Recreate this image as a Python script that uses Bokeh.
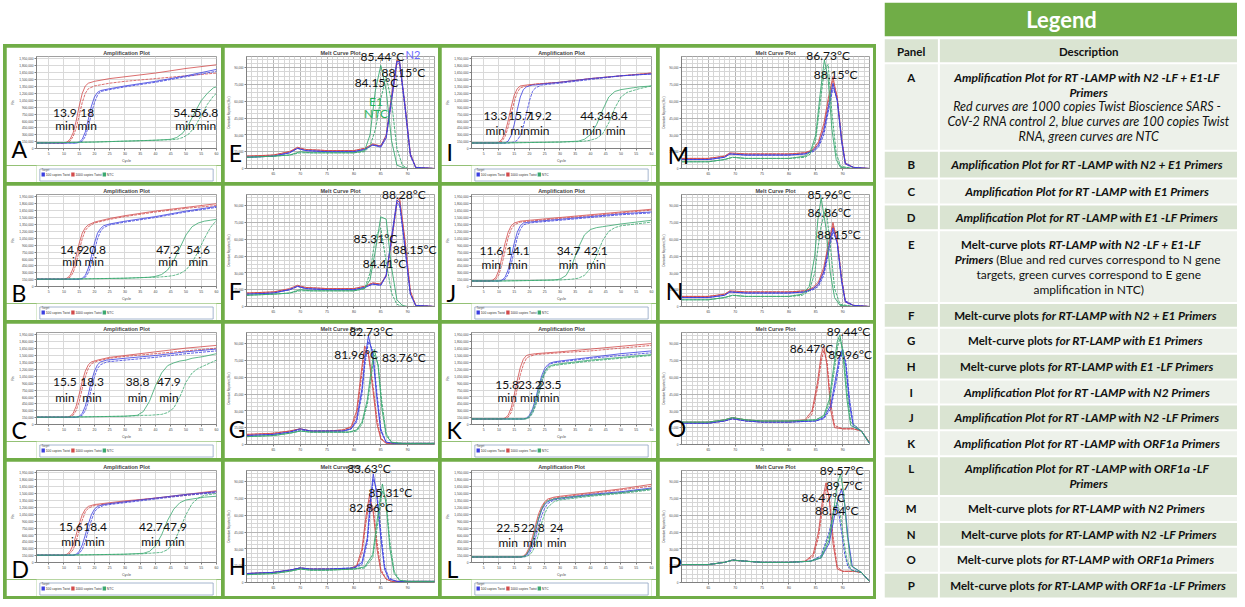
from bokeh.plotting import figure
from bokeh.layouts import row, column
from bokeh.models import Range1d, Spacer, FixedTicker, CustomJSTickFormatter
from bokeh.embed import file_html
from bokeh.resources import INLINE
from bokeh.core.properties import value

# ====================== DATA ======================
LEGEND_LABELS = ["100 copies Twist", "1000 copies Twist", "NTC"]

# ---- Amplification plots (x = cycle, y = Rn in thousands) ----
A_red_x = [1, 10, 11, 12, 13, 14, 15, 16, 17, 18, 20, 25, 30, 40, 50, 60]
A_red_y1 = [120, 120, 140, 200, 340, 600, 920, 1200, 1360, 1420, 1460, 1520, 1560, 1640, 1740, 1820]
A_red_y2 = [120, 120, 130, 160, 260, 440, 720, 1000, 1200, 1300, 1360, 1420, 1460, 1520, 1580, 1640]
A_blue_x = [1, 14, 15, 16, 17, 18, 19, 20, 21, 22, 25, 30, 40, 50, 60]
A_blue_y1 = [120, 120, 140, 200, 360, 640, 920, 1120, 1220, 1260, 1300, 1360, 1460, 1580, 1720]
A_blue_y2 = [120, 120, 130, 160, 260, 480, 760, 1000, 1160, 1240, 1280, 1340, 1440, 1560, 1680]
A_green_x = [1, 10, 20, 30, 40, 45, 47, 49, 51, 53, 55, 57, 59, 60]
A_green_y1 = [120, 130, 140, 160, 180, 200, 240, 340, 540, 800, 1040, 1200, 1320, 1340]
A_green_y2 = [120, 130, 140, 160, 180, 190, 200, 240, 320, 480, 720, 960, 1140, 1200]
A_times = ["13.9", "18", "54.5", "56.8"]

B_red_x = [1, 10, 11, 12, 13, 14, 15, 16, 17, 18, 20, 25, 30, 40, 50, 60]
B_red_y1 = [160, 160, 180, 240, 400, 660, 940, 1160, 1280, 1340, 1400, 1480, 1540, 1640, 1720, 1800]
B_red_y2 = [160, 160, 170, 200, 300, 500, 780, 1040, 1220, 1300, 1380, 1460, 1520, 1620, 1700, 1760]
B_blue_x = [1, 15, 16, 17, 18, 19, 20, 21, 22, 23, 25, 30, 40, 50, 60]
B_blue_y1 = [160, 160, 180, 240, 400, 660, 940, 1160, 1260, 1320, 1360, 1420, 1520, 1640, 1740]
B_blue_y2 = [160, 160, 170, 200, 300, 500, 780, 1040, 1200, 1280, 1340, 1400, 1500, 1620, 1720]
B_green_x = [1, 10, 20, 30, 38, 40, 42, 44, 46, 48, 50, 52, 54, 56, 58, 60]
B_green_y1 = [160, 160, 170, 180, 200, 220, 260, 360, 560, 840, 1120, 1300, 1380, 1420, 1440, 1460]
B_green_y2 = [160, 160, 170, 180, 200, 200, 210, 220, 240, 280, 360, 520, 760, 1040, 1280, 1440]
B_times = ["14.9", "20.8", "47.2", "54.6"]

C_red_x = [1, 11, 12, 13, 14, 15, 16, 17, 18, 19, 21, 25, 30, 40, 50, 60]
C_red_y1 = [160, 160, 180, 240, 400, 660, 940, 1160, 1300, 1360, 1400, 1460, 1500, 1580, 1660, 1720]
C_red_y2 = [160, 160, 170, 200, 300, 500, 780, 1040, 1220, 1320, 1380, 1440, 1480, 1540, 1600, 1660]
C_blue_x = [1, 14, 15, 16, 17, 18, 19, 20, 21, 22, 24, 30, 40, 50, 60]
C_blue_y1 = [160, 160, 180, 240, 400, 660, 940, 1160, 1300, 1360, 1400, 1440, 1500, 1580, 1640]
C_blue_y2 = [160, 160, 170, 200, 300, 500, 780, 1040, 1220, 1300, 1360, 1400, 1460, 1540, 1600]
C_green_x = [1, 10, 20, 30, 34, 36, 38, 40, 42, 44, 46, 48, 50, 52, 54, 56, 60]
C_green_y1 = [160, 160, 170, 180, 200, 280, 500, 840, 1120, 1280, 1340, 1380, 1400, 1440, 1460, 1480, 1540]
C_green_y2 = [160, 160, 170, 180, 190, 200, 200, 210, 220, 260, 360, 600, 920, 1120, 1220, 1280, 1400]
C_times = ["15.5", "18.3", "38.8", "47.9"]

D_red_x = [1, 10, 11, 12, 13, 14, 15, 16, 17, 18, 20, 25, 30, 40, 50, 60]
D_red_y1 = [160, 160, 180, 240, 380, 600, 840, 1040, 1160, 1220, 1260, 1300, 1340, 1400, 1480, 1560]
D_red_y2 = [160, 160, 170, 200, 280, 460, 700, 920, 1100, 1180, 1240, 1280, 1320, 1400, 1460, 1540]
D_blue_x = [1, 13, 14, 15, 16, 17, 18, 19, 20, 21, 23, 25, 30, 40, 50, 60]
D_blue_y1 = [160, 160, 180, 240, 380, 600, 840, 1040, 1160, 1220, 1260, 1280, 1320, 1400, 1480, 1540]
D_blue_y2 = [160, 160, 170, 200, 280, 460, 700, 920, 1100, 1180, 1240, 1260, 1300, 1380, 1460, 1520]
D_green_x = [1, 10, 20, 30, 36, 38, 40, 42, 44, 46, 48, 50, 52, 54, 56, 60]
D_green_y1 = [160, 160, 170, 180, 200, 240, 360, 600, 920, 1160, 1300, 1360, 1380, 1400, 1420, 1440]
D_green_y2 = [160, 160, 170, 180, 190, 200, 210, 220, 280, 440, 720, 1040, 1280, 1400, 1460, 1500]
D_times = ["15.6", "18.4", "42.7", "47.9"]

I_red_x = [1, 9, 10, 11, 12, 13, 14, 15, 16, 17, 19, 22, 30, 40, 50, 60]
I_red_y1 = [120, 120, 140, 200, 340, 600, 900, 1160, 1300, 1360, 1380, 1400, 1440, 1520, 1580, 1640]
I_red_y2 = [120, 120, 130, 160, 260, 460, 740, 1020, 1220, 1320, 1360, 1400, 1440, 1520, 1580, 1640]
I_blue_x = [1, 12, 13, 14, 15, 16, 17, 18, 19, 20, 21, 22, 24, 30, 40, 50, 60]
I_blue_y1 = [120, 120, 160, 280, 520, 840, 1120, 1280, 1340, 1360, 1380, 1380, 1400, 1440, 1520, 1580, 1620]
I_blue_y2 = [120, 120, 120, 130, 140, 180, 280, 480, 760, 1040, 1240, 1320, 1380, 1420, 1500, 1580, 1620]
I_green_x = [1, 10, 20, 30, 36, 38, 40, 42, 44, 46, 48, 50, 52, 54, 56, 60]
I_green_y1 = [120, 120, 130, 140, 160, 200, 300, 520, 840, 1120, 1240, 1280, 1300, 1320, 1340, 1360]
I_green_y2 = [120, 120, 130, 140, 150, 160, 180, 220, 320, 560, 880, 1120, 1220, 1260, 1300, 1360]
I_times = ["13.3", "15.7", "19.2", "44.3", "48.4"]

J_red_x = [1, 7, 8, 9, 10, 11, 12, 13, 14, 15, 17, 20, 30, 40, 50, 60]
J_red_y1 = [120, 120, 140, 200, 360, 640, 940, 1180, 1320, 1380, 1420, 1440, 1500, 1560, 1620, 1680]
J_red_y2 = [120, 120, 130, 160, 260, 480, 780, 1060, 1240, 1340, 1400, 1420, 1480, 1540, 1600, 1660]
J_blue_x = [1, 10, 11, 12, 13, 14, 15, 16, 17, 18, 20, 23, 30, 40, 50, 60]
J_blue_y1 = [120, 120, 140, 200, 360, 640, 940, 1180, 1320, 1380, 1400, 1420, 1460, 1520, 1580, 1620]
J_blue_y2 = [120, 120, 130, 160, 260, 480, 780, 1060, 1240, 1340, 1380, 1400, 1440, 1500, 1560, 1600]
J_green_x = [1, 10, 20, 28, 30, 32, 34, 36, 38, 40, 42, 44, 46, 48, 50, 55, 60]
J_green_y1 = [120, 120, 130, 140, 160, 240, 480, 840, 1120, 1240, 1280, 1300, 1320, 1340, 1360, 1400, 1440]
J_green_y2 = [120, 120, 130, 140, 140, 150, 160, 180, 240, 400, 680, 1000, 1200, 1280, 1320, 1360, 1400]
J_times = ["11.6", "14.1", "34.7", "42.1"]

K_red_x = [1, 11, 12, 13, 14, 15, 16, 17, 18, 19, 20, 22, 30, 40, 50, 60]
K_red_y1 = [120, 120, 140, 200, 360, 640, 960, 1240, 1420, 1500, 1520, 1540, 1580, 1640, 1700, 1760]
K_red_y2 = [120, 120, 130, 160, 260, 480, 780, 1080, 1300, 1440, 1480, 1520, 1560, 1600, 1660, 1720]
K_blue_x = [1, 18, 19, 20, 21, 22, 23, 24, 25, 26, 27, 28, 30, 40, 50, 60]
K_blue_y1 = [120, 120, 140, 200, 340, 560, 820, 1060, 1220, 1300, 1340, 1360, 1380, 1460, 1540, 1600]
K_blue_y2 = [120, 120, 130, 160, 260, 440, 680, 940, 1140, 1260, 1320, 1340, 1360, 1440, 1500, 1560]
K_green_x = [1, 18, 19, 20, 21, 22, 23, 24, 25, 26, 27, 28, 30, 40, 50, 60]
K_green_y1 = [120, 120, 130, 180, 300, 500, 760, 1000, 1160, 1240, 1280, 1300, 1320, 1400, 1460, 1520]
K_green_y2 = [120, 120, 120, 150, 240, 400, 640, 900, 1100, 1200, 1260, 1280, 1300, 1380, 1440, 1500]
K_times = ["15.8", "23.2", "23.5"]

L_red_x = [1, 17, 18, 19, 20, 21, 22, 23, 24, 25, 26, 28, 30, 40, 50, 60]
L_red_y1 = [120, 120, 140, 200, 340, 560, 820, 1060, 1220, 1320, 1380, 1420, 1440, 1520, 1600, 1700]
L_red_y2 = [120, 120, 130, 180, 300, 500, 760, 1000, 1180, 1300, 1360, 1400, 1420, 1500, 1580, 1660]
L_blue_x = [1, 17, 18, 19, 20, 21, 22, 23, 24, 25, 26, 28, 30, 40, 50, 60]
L_blue_y1 = [120, 120, 130, 160, 260, 440, 680, 940, 1140, 1260, 1320, 1380, 1400, 1480, 1540, 1620]
L_blue_y2 = [120, 120, 120, 140, 200, 340, 540, 800, 1020, 1180, 1280, 1360, 1380, 1460, 1520, 1600]
L_green_x = [1, 17, 18, 19, 20, 21, 22, 23, 24, 25, 26, 28, 30, 40, 50, 60]
L_green_y1 = [120, 120, 130, 170, 280, 460, 720, 960, 1160, 1280, 1340, 1380, 1400, 1460, 1520, 1600]
L_green_y2 = [120, 120, 120, 130, 160, 240, 400, 620, 860, 1060, 1200, 1320, 1360, 1440, 1500, 1580]
L_times = ["22.5", "22.8", "24"]

# ---- Melt curves (x = temperature degC, y = derivative reporter, thousands) ----
E_red_x = [60, 65, 68, 69.5, 71, 75, 80, 82, 83.5, 85, 86, 87, 88, 88.5, 89.5, 90.5, 91.5, 95]
E_red_y1 = [11, 12, 15, 19, 17, 16, 16, 18, 22, 20, 30, 65, 97, 95, 55, 12, 1, 0]
E_red_y2 = [11, 12, 15, 18, 17, 16, 16, 18, 21, 20, 28, 60, 93, 94, 58, 14, 1, 0]
E_blue_x = [60, 65, 68, 69.5, 71, 75, 80, 82, 83.5, 85, 86, 87, 88, 88.5, 89.5, 90.5, 91.5, 95]
E_blue_y1 = [10, 11, 14, 18, 16, 15, 15, 17, 21, 19, 27, 60, 95, 96, 57, 13, 1, 0]
E_blue_y2 = [10, 11, 14, 18, 16, 15, 15, 17, 21, 20, 29, 63, 96, 93, 54, 11, 1, 0]
E_green_x = [60, 65, 68, 70, 72, 75, 80, 82, 83, 84, 85, 86, 87, 88, 89, 90, 95]
E_green_y1 = [10, 11, 12, 15, 14, 14, 14, 16, 30, 70, 92, 70, 25, 3, 1, 0, 0]
E_green_y2 = [10, 11, 12, 14, 14, 14, 14, 15, 20, 35, 62, 82, 60, 18, 3, 0, 0]
E_peaks = ["85.44°C", "88.15°C", "84.15°C"]
E_tags = ["N2", "E1", "NTC"]

F_red_x = [60, 65, 68, 69.5, 71, 75, 80, 82, 83.5, 85, 86, 87, 88, 88.5, 89.5, 90.5, 91.5, 95]
F_red_y1 = [12, 13, 16, 19, 17, 16, 16, 18, 21, 20, 28, 60, 94, 97, 60, 14, 1, 0]
F_red_y2 = [12, 13, 15, 18, 17, 16, 16, 18, 21, 20, 27, 57, 92, 95, 58, 13, 1, 0]
F_blue_x = [60, 65, 68, 69.5, 71, 75, 80, 82, 83.5, 85, 86, 87, 88, 88.5, 89.5, 90.5, 91.5, 95]
F_blue_y1 = [11, 12, 15, 18, 16, 15, 15, 17, 20, 19, 28, 62, 95, 93, 53, 11, 1, 0]
F_blue_y2 = [11, 12, 15, 18, 16, 15, 15, 17, 20, 19, 27, 59, 92, 91, 52, 11, 1, 0]
F_green_x = [60, 65, 68, 70, 72, 75, 80, 82, 83, 84, 85, 86, 87, 88, 89, 90, 95]
F_green_y1 = [10, 11, 12, 15, 14, 14, 14, 16, 24, 50, 80, 78, 35, 6, 1, 0, 0]
F_green_y2 = [10, 11, 12, 14, 14, 14, 14, 16, 30, 62, 70, 40, 12, 2, 0, 0, 0]
F_peaks = ["88.28°C", "85.31°C", "88.15°C", "84.41°C"]

G_red_x = [60, 65, 68, 70, 72, 75, 78, 79.5, 80.5, 81.5, 82, 82.7, 83.5, 84.3, 85, 86, 88, 95]
G_red_y1 = [9, 10, 12, 14, 12, 12, 13, 16, 30, 70, 88, 80, 50, 18, 5, 1, 1, 1]
G_red_y2 = [9, 10, 12, 14, 12, 12, 13, 15, 26, 64, 84, 82, 55, 22, 6, 1, 1, 1]
G_blue_x = [60, 65, 68, 70, 72, 75, 78, 79.5, 80.5, 81.5, 82, 82.7, 83.5, 84.3, 85, 86, 88, 95]
G_blue_y1 = [8, 9, 11, 14, 12, 12, 12, 14, 22, 50, 75, 97, 80, 40, 12, 2, 1, 1]
G_blue_y2 = [8, 9, 11, 13, 12, 12, 12, 14, 20, 45, 70, 92, 84, 45, 14, 2, 1, 1]
G_green_x = [60, 65, 68, 70, 72, 75, 79, 80.5, 81.5, 82.5, 83.2, 83.8, 84.5, 85.2, 86, 87, 89, 95]
G_green_y1 = [7, 8, 10, 12, 11, 11, 11, 13, 20, 40, 66, 85, 70, 32, 8, 2, 1, 1]
G_green_y2 = [7, 8, 10, 12, 11, 11, 11, 12, 18, 36, 60, 80, 72, 38, 10, 2, 1, 1]
G_peaks = ["82.73°C", "81.96°C", "83.76°C"]

H_red_x = [60, 65, 68, 70, 72, 75, 79, 80.5, 81.5, 82.2, 82.9, 83.6, 84.3, 85, 86, 87, 89, 95]
H_red_y1 = [8, 9, 11, 13, 12, 12, 12, 15, 30, 58, 78, 62, 30, 10, 3, 1, 1, 1]
H_red_y2 = [8, 9, 11, 13, 12, 12, 12, 14, 26, 52, 74, 66, 36, 12, 3, 1, 1, 1]
H_blue_x = [60, 65, 68, 70, 72, 75, 80, 81.5, 82.5, 83, 83.6, 84.2, 85, 85.7, 86.5, 88, 90, 95]
H_blue_y1 = [8, 9, 11, 13, 12, 12, 13, 18, 40, 70, 97, 80, 40, 12, 3, 1, 1, 1]
H_blue_y2 = [8, 9, 11, 13, 12, 12, 13, 16, 36, 64, 92, 84, 46, 15, 4, 1, 1, 1]
H_green_x = [60, 65, 68, 70, 72, 75, 80, 82, 83.5, 84.3, 85.3, 86, 86.7, 87.5, 88.5, 90, 95]
H_green_y1 = [7, 8, 10, 12, 11, 11, 12, 14, 25, 55, 88, 70, 30, 8, 2, 1, 1]
H_green_y2 = [7, 8, 10, 12, 11, 11, 12, 13, 22, 48, 82, 74, 36, 10, 2, 1, 1]
H_peaks = ["83.63°C", "85.31°C", "82.86°C"]

M_red_x = [60, 65, 68, 69, 72, 75, 80, 83, 84.5, 85.5, 86.5, 87.3, 88.2, 89, 89.8, 90.5, 92, 95]
M_red_y1 = [9, 9, 11, 14, 13, 13, 13, 14, 17, 24, 40, 62, 82, 62, 25, 4, 1, 0]
M_red_y2 = [9, 9, 11, 13, 13, 13, 13, 14, 16, 22, 36, 58, 78, 64, 28, 5, 1, 0]
M_blue_x = [60, 65, 68, 69, 72, 75, 80, 83, 84.5, 85.5, 86.5, 87.3, 88.2, 89, 89.8, 90.5, 92, 95]
M_blue_y1 = [8, 8, 10, 13, 12, 12, 12, 13, 16, 21, 34, 54, 76, 60, 24, 4, 1, 0]
M_blue_y2 = [8, 8, 10, 13, 12, 12, 12, 13, 15, 19, 30, 50, 72, 62, 27, 5, 1, 0]
M_green_x = [60, 65, 68, 69.5, 72, 75, 80, 83, 84, 85, 85.8, 86.6, 87.3, 88, 88.8, 89.6, 92, 95]
M_green_y1 = [6, 6, 8, 10, 9, 9, 9, 11, 15, 30, 66, 97, 80, 35, 8, 1, 0, 0]
M_green_y2 = [6, 6, 8, 10, 9, 9, 9, 10, 13, 26, 58, 88, 93, 50, 14, 2, 0, 0]
M_peaks = ["86.73°C", "88.15°C"]

N_red_x = [60, 65, 68, 69, 72, 75, 80, 83, 84.5, 85.5, 86.5, 87.3, 88.2, 89, 89.8, 90.5, 92, 95]
N_red_y1 = [9, 9, 11, 14, 13, 13, 13, 14, 17, 22, 35, 55, 75, 58, 24, 4, 1, 0]
N_red_y2 = [9, 9, 11, 13, 13, 13, 13, 14, 16, 20, 32, 52, 72, 60, 26, 5, 1, 0]
N_blue_x = [60, 65, 68, 69, 72, 75, 80, 83, 84.5, 85.5, 86.5, 87.3, 88.2, 89, 89.8, 90.5, 92, 95]
N_blue_y1 = [8, 8, 10, 13, 12, 12, 12, 13, 16, 20, 31, 50, 70, 56, 22, 4, 1, 0]
N_blue_y2 = [8, 8, 10, 13, 12, 12, 12, 13, 15, 18, 28, 46, 67, 57, 25, 5, 1, 0]
N_green_x = [60, 65, 68, 69.5, 72, 75, 80, 82.5, 83.8, 84.8, 85.4, 86, 86.9, 87.7, 88.5, 89.5, 92, 95]
N_green_y1 = [6, 6, 8, 10, 9, 9, 9, 11, 18, 45, 78, 97, 70, 30, 8, 1, 0, 0]
N_green_y2 = [6, 6, 8, 10, 9, 9, 9, 10, 14, 30, 52, 72, 88, 55, 16, 2, 0, 0]
N_peaks = ["85.96°C", "86.86°C", "88.15°C"]

O_red_x = [60, 65, 68, 69.5, 72, 75, 80, 83, 84.3, 85.3, 86, 86.5, 87.1, 87.8, 88.5, 90, 92, 93.5, 95]
O_red_y1 = [20, 20, 22, 24, 22, 21, 21, 22, 30, 55, 80, 88, 70, 30, 15, 14, 14, 12, 2]
O_red_y2 = [19, 19, 21, 23, 21, 20, 20, 21, 27, 50, 74, 84, 74, 36, 17, 14, 14, 12, 2]
O_blue_x = [60, 65, 68, 69.5, 72, 75, 80, 85, 86.5, 87.8, 88.8, 89.5, 90, 90.6, 91.3, 92, 93.5, 95]
O_blue_y1 = [19, 19, 21, 23, 21, 20, 20, 21, 24, 35, 62, 80, 85, 70, 35, 16, 12, 1]
O_blue_y2 = [19, 19, 21, 23, 21, 20, 20, 21, 23, 32, 56, 76, 82, 74, 40, 18, 12, 1]
O_green_x = [60, 65, 68, 69.5, 72, 75, 80, 85, 86.5, 87.5, 88.5, 89, 89.5, 90.1, 90.8, 91.5, 93.5, 95]
O_green_y1 = [20, 20, 22, 24, 22, 21, 21, 22, 26, 40, 75, 92, 98, 78, 40, 17, 12, 1]
O_green_y2 = [20, 20, 22, 24, 22, 21, 21, 22, 25, 36, 68, 86, 95, 84, 48, 20, 12, 1]
O_peaks = ["89.44°C", "86.47°C", "89.96°C"]

P_red_x = [60, 65, 68, 69.5, 72, 75, 80, 83, 84.5, 85.5, 86.3, 86.9, 87.5, 88.2, 89, 90, 92, 93.5, 95]
P_red_y1 = [16, 16, 18, 20, 19, 18, 18, 19, 25, 45, 75, 89, 75, 35, 12, 10, 10, 9, 1]
P_red_y2 = [16, 16, 18, 20, 19, 18, 18, 19, 23, 40, 68, 84, 78, 42, 14, 10, 10, 9, 1]
P_blue_x = [60, 65, 68, 69.5, 72, 75, 80, 84, 86, 87.5, 88.5, 89.2, 89.8, 90.4, 91, 91.8, 93.5, 95]
P_blue_y1 = [16, 16, 18, 20, 19, 18, 18, 19, 22, 35, 60, 76, 83, 70, 40, 14, 9, 1]
P_blue_y2 = [16, 16, 18, 20, 19, 18, 18, 19, 24, 45, 68, 65, 45, 25, 14, 11, 9, 1]
P_green_x = [60, 65, 68, 69.5, 72, 75, 80, 84, 86, 87.5, 88.5, 89, 89.6, 90.2, 90.8, 91.6, 93.5, 95]
P_green_y1 = [16, 16, 18, 20, 19, 18, 18, 19, 22, 38, 70, 88, 97, 80, 45, 15, 9, 1]
P_green_y2 = [16, 16, 18, 20, 19, 18, 18, 19, 23, 42, 66, 72, 60, 38, 20, 11, 9, 1]
P_peaks = ["89.57°C", "89.7°C", "86.47°C", "88.54°C"]

# ---- Legend table ----
TABLE_PANELS = ["A", "B", "C", "D", "E", "F", "G", "H", "I", "J", "K", "L", "M", "N", "O", "P"]
TABLE_LINES = [
    [[("Amplification Plot for RT  -LAMP with N2 -LF + E1-LF", "bi")], [("Primers", "bi")],
     [("Red curves are 1000 copies Twist Bioscience SARS  -", "i")],
     [("CoV-2 RNA control 2, blue curves are 100 copies Twist", "i")],
     [("RNA, green curves are NTC", "i")]],
    [[("Amplification Plot for RT  -LAMP with N2 + E1 Primers", "bi")]],
    [[("Amplification Plot for RT  -LAMP with E1 Primers", "bi")]],
    [[("Amplification Plot for RT  -LAMP with E1 -LF Primers", "bi")]],
    [[("Melt-curve plots", "b"), ("RT-LAMP with N2 -LF + E1-LF", "bi")],
     [("Primers", "bi"), ("(Blue and red curves correspond to N gene", "n")],
     [("targets, green curves correspond to E gene", "n")],
     [("amplification in NTC)", "n")]],
    [[("Melt-curve plots", "b"), ("for RT-LAMP with N2 + E1 Primers", "bi")]],
    [[("Melt-curve plots", "b"), ("for RT-LAMP with E1 Primers", "bi")]],
    [[("Melt-curve plots", "b"), ("for RT-LAMP with E1 -LF Primers", "bi")]],
    [[("Amplification Plot for RT  -LAMP with N2 Primers", "bi")]],
    [[("Amplification Plot for RT  -LAMP with N2 -LF Primers", "bi")]],
    [[("Amplification Plot for RT  -LAMP with ORF1a Primers", "bi")]],
    [[("Amplification Plot for RT  -LAMP with ORF1a -LF", "bi")], [("Primers", "bi")]],
    [[("Melt-curve plots", "b"), ("for RT-LAMP with N2 Primers", "bi")]],
    [[("Melt-curve plots", "b"), ("for RT-LAMP with N2 -LF Primers", "bi")]],
    [[("Melt-curve plots", "b"), ("for RT-LAMP with ORF1a Primers", "bi")]],
    [[("Melt-curve plots", "b"), ("for RT-LAMP with ORF1a -LF Primers", "bi")]],
]

# ====================== STYLE / LAYOUT ======================
FONT = "Lato"
SMALL_FONT = "Liberation Sans"
RED, BLUE, GREEN = "#d24b4b", "#3b3fe0", "#3aa870"
FRAME_GREEN = "#70ad47"
BAND_DARK, BAND_LIGHT = "#dae4d2", "#edf1ea"

AMP = {
    "A": [(A_red_x, A_red_y1, A_red_y2, RED), (A_blue_x, A_blue_y1, A_blue_y2, BLUE), (A_green_x, A_green_y1, A_green_y2, GREEN)],
    "B": [(B_red_x, B_red_y1, B_red_y2, RED), (B_blue_x, B_blue_y1, B_blue_y2, BLUE), (B_green_x, B_green_y1, B_green_y2, GREEN)],
    "C": [(C_red_x, C_red_y1, C_red_y2, RED), (C_blue_x, C_blue_y1, C_blue_y2, BLUE), (C_green_x, C_green_y1, C_green_y2, GREEN)],
    "D": [(D_red_x, D_red_y1, D_red_y2, RED), (D_blue_x, D_blue_y1, D_blue_y2, BLUE), (D_green_x, D_green_y1, D_green_y2, GREEN)],
    "I": [(I_red_x, I_red_y1, I_red_y2, RED), (I_blue_x, I_blue_y1, I_blue_y2, BLUE), (I_green_x, I_green_y1, I_green_y2, GREEN)],
    "J": [(J_red_x, J_red_y1, J_red_y2, RED), (J_blue_x, J_blue_y1, J_blue_y2, BLUE), (J_green_x, J_green_y1, J_green_y2, GREEN)],
    "K": [(K_red_x, K_red_y1, K_red_y2, RED), (K_blue_x, K_blue_y1, K_blue_y2, BLUE), (K_green_x, K_green_y1, K_green_y2, GREEN)],
    "L": [(L_red_x, L_red_y1, L_red_y2, RED), (L_blue_x, L_blue_y1, L_blue_y2, BLUE), (L_green_x, L_green_y1, L_green_y2, GREEN)],
}
AMP_TIMES = {"A": A_times, "B": B_times, "C": C_times, "D": D_times,
             "I": I_times, "J": J_times, "K": K_times, "L": L_times}
AMP_TIME_X = {"A": [10.3, 17.6, 49.7, 56.7], "B": [12.6, 19.9, 44.1, 54.0],
              "C": [10.3, 19.2, 34.1, 44.4], "D": [12.3, 20.2, 38.5, 46.4],
              "I": [8.8, 16.9, 23.4, 40.5, 48.3], "J": [7.5, 16.2, 32.8, 41.8],
              "K": [12.7, 20.1, 26.6], "L": [13.0, 21.1, 28.9]}
AMP_TIME_Y = {"A": (780, 505), "B": (800, 540), "C": (920, 580), "D": (780, 460),
              "I": (700, 400), "J": (780, 480), "K": (860, 580), "L": (740, 440)}
# letter baseline in px relative to the frame bottom (negative = below the frame)
AMP_LETTER_DY = {"A": -8, "B": -14, "C": -13, "D": -14, "I": -11, "J": -14, "K": -13, "L": -14}
LETTER_FIX = 7

MELT = {
    "E": [(E_red_x, E_red_y1, E_red_y2, RED), (E_blue_x, E_blue_y1, E_blue_y2, BLUE), (E_green_x, E_green_y1, E_green_y2, GREEN)],
    "F": [(F_red_x, F_red_y1, F_red_y2, RED), (F_blue_x, F_blue_y1, F_blue_y2, BLUE), (F_green_x, F_green_y1, F_green_y2, GREEN)],
    "G": [(G_red_x, G_red_y1, G_red_y2, RED), (G_blue_x, G_blue_y1, G_blue_y2, BLUE), (G_green_x, G_green_y1, G_green_y2, GREEN)],
    "H": [(H_red_x, H_red_y1, H_red_y2, RED), (H_blue_x, H_blue_y1, H_blue_y2, BLUE), (H_green_x, H_green_y1, H_green_y2, GREEN)],
    "M": [(M_red_x, M_red_y1, M_red_y2, RED), (M_blue_x, M_blue_y1, M_blue_y2, BLUE), (M_green_x, M_green_y1, M_green_y2, GREEN)],
    "N": [(N_red_x, N_red_y1, N_red_y2, RED), (N_blue_x, N_blue_y1, N_blue_y2, BLUE), (N_green_x, N_green_y1, N_green_y2, GREEN)],
    "O": [(O_red_x, O_red_y1, O_red_y2, RED), (O_blue_x, O_blue_y1, O_blue_y2, BLUE), (O_green_x, O_green_y1, O_green_y2, GREEN)],
    "P": [(P_red_x, P_red_y1, P_red_y2, RED), (P_blue_x, P_blue_y1, P_blue_y2, BLUE), (P_green_x, P_green_y1, P_green_y2, GREEN)],
}
MELT_PEAKS = {"E": E_peaks, "F": F_peaks, "G": G_peaks, "H": H_peaks,
              "M": M_peaks, "N": N_peaks, "O": O_peaks, "P": P_peaks}
MELT_PEAK_POS = {"E": [(85.3, 100), (89.2, 86), (84.2, 77)],
                 "F": [(89.3, 100), (84.0, 61), (91.3, 51), (85.7, 38)],
                 "G": [(83.2, 101), (80.4, 80), (89.3, 78)],
                 "H": [(82.8, 102), (86.8, 80), (83.2, 67)],
                 "M": [(87.3, 101), (88.7, 84)],
                 "N": [(87.5, 100), (87.5, 84), (89.3, 64)],
                 "O": [(91.1, 101), (84.2, 86), (91.4, 80)],
                 "P": [(89.8, 100), (90.3, 87), (86.4, 76), (88.9, 64)]}
E_TAG_POS = [(91.0, 102), (84.1, 60), (84.1, 49)]
E_TAG_SIZE = ["11px", "12px", "12px"]
E_TAG_COL = ["#6c6cff", "#22b25a", "#22b25a"]
MELT_LETTER = {"E": (-18, 9), "F": (-18, 9), "G": (-18, 9), "H": (-18, 10),
               "M": (-14, 7), "N": (-16, 9), "O": (-14, 10), "P": (-14, 11)}

GRID = [["A", "E", "I", "M"], ["B", "F", "J", "N"], ["C", "G", "K", "O"], ["D", "H", "L", "P"]]
COL_W = [215, 214, 215, 214]
ROW_H = [135, 135, 135, 135]
LEG_H = 17
AMP_BORDER = (30, 5, 9, 16)   # left, right, top, bottom
MELT_BORDER = (19, 4, 8, 14)


def style_axis(ax, size="3.5px"):
    ax.major_label_text_font_size = size
    ax.major_label_text_font = SMALL_FONT
    ax.major_label_text_color = "#444444"
    ax.major_label_standoff = 1
    ax.major_tick_out = 2
    ax.major_tick_in = 0
    ax.minor_tick_out = 0
    ax.minor_tick_in = 0
    ax.axis_line_color = "#808080"
    ax.major_tick_line_color = "#808080"
    ax.axis_label_text_font_size = "3.6px"
    ax.axis_label_text_font_style = "normal"
    ax.axis_label_text_font = SMALL_FONT
    ax.axis_label_standoff = 1


def set_title(p, text):
    p.title.text = text
    p.title.align = "center"
    p.title.text_font = SMALL_FONT
    p.title.text_font_size = "5.5px"
    p.title.text_font_style = "bold"
    p.title.standoff = 1


def free_text(p, xs, ys, texts, size, color="#111111", align="center", baseline="middle"):
    # overlay-level text so it may run past the plot frame like the reference labels
    p.text(x=xs, y=ys, text=texts, text_font=value(FONT), text_font_size=size,
           text_color=color, text_align=align, text_baseline=baseline, level="overlay")


def amp_panel(key, w, h):
    bl, br, bt, bb = AMP_BORDER
    ph = h - LEG_H
    fw, fh = w - bl - br, ph - bt - bb
    p = figure(width=w, height=ph, x_range=Range1d(1, 60), y_range=Range1d(0, 2000),
               output_backend="svg", toolbar_location=None,
               min_border_left=bl, min_border_right=br, min_border_top=bt, min_border_bottom=bb)
    set_title(p, "Amplification Plot")
    p.background_fill_color = "white"
    p.border_fill_color = "white"
    p.outline_line_color = "#a0a0a0"
    p.xaxis.ticker = FixedTicker(ticks=list(range(5, 61, 5)))
    p.yaxis.ticker = FixedTicker(ticks=list(range(0, 2000, 150)))
    p.yaxis.formatter = CustomJSTickFormatter(
        code="return tick == 0 ? '0' : (tick*1000).toLocaleString('en-US');")
    p.xaxis.axis_label = "Cycle"
    p.yaxis.axis_label = "Rn"
    style_axis(p.xaxis[0])
    style_axis(p.yaxis[0], "3.2px")
    p.xgrid.grid_line_color = "#d9d9d9"
    p.ygrid.grid_line_color = "#d9d9d9"
    for xs, y1, y2, col in AMP[key]:
        p.line(xs, y1, line_color=col, line_width=0.9, line_alpha=0.9)
        p.line(xs, y2, line_color=col, line_width=0.9, line_alpha=0.9, line_dash="3 1")
    ty_num, ty_min = AMP_TIME_Y[key]
    txs = AMP_TIME_X[key]
    free_text(p, txs, [ty_num] * len(txs), AMP_TIMES[key], "12px")
    free_text(p, txs, [ty_min] * len(txs), ["min"] * len(txs), "12px")
    lx = 1 + (-25) * 59.0 / fw
    ly = (AMP_LETTER_DY[key] + LETTER_FIX) * 2000.0 / fh
    free_text(p, [lx], [ly], [key], "23px", color="#000000", align="left", baseline="alphabetic")

    lg = figure(width=w, height=LEG_H, x_range=Range1d(0, w), y_range=Range1d(0, LEG_H),
                output_backend="svg", toolbar_location=None, x_axis_type=None, y_axis_type=None,
                min_border=0)
    lg.outline_line_color = None
    lg.background_fill_color = "white"
    lg.border_fill_color = "white"
    lg.rect(x=[w / 2], y=[7.5], width=[w - 8], height=[12], fill_color=None,
            line_color="#8ea3c2", line_width=0.8)
    lg.rect(x=[8, 43.5, 81], y=[8, 8, 8], width=4, height=4,
            fill_color=[BLUE, RED, GREEN], line_color=None)
    lg.text(x=[11, 46.5, 84], y=[8, 8, 8], text=LEGEND_LABELS, text_font=value(SMALL_FONT),
            text_font_size="3.3px", text_baseline="middle", text_color="#333333")
    lg.text(x=[6], y=[13.4], text=["Target"], text_font=value(SMALL_FONT),
            text_font_size="2.8px", text_baseline="middle", text_color="#555555")
    return column(p, lg, spacing=0)


def melt_panel(key, w, h):
    bl, br, bt, bb = MELT_BORDER
    fw, fh = w - bl - br, h - bt - bb
    p = figure(width=w, height=h, x_range=Range1d(60, 95), y_range=Range1d(0, 100),
               output_backend="svg", toolbar_location=None,
               min_border_left=bl, min_border_right=br, min_border_top=bt, min_border_bottom=bb)
    set_title(p, "Melt Curve Plot")
    p.background_fill_color = "white"
    p.border_fill_color = "white"
    p.outline_line_color = "#a0a0a0"
    p.xaxis.ticker = FixedTicker(ticks=[65, 70, 75, 80, 85, 90], minor_ticks=list(range(60, 96)))
    p.yaxis.ticker = FixedTicker(ticks=[0, 15, 30, 45, 60, 75, 90],
                                 minor_ticks=[i * 3.75 for i in range(27)])
    p.yaxis.formatter = CustomJSTickFormatter(code="return (tick*1000).toLocaleString('en-US');")
    p.yaxis.axis_label = "Derivative Reporter (-Rn')"
    style_axis(p.xaxis[0])
    style_axis(p.yaxis[0], "3px")
    p.yaxis.axis_label_text_font_size = "2.8px"
    p.xgrid.grid_line_color = "#b5b5b5"
    p.ygrid.grid_line_color = "#b5b5b5"
    p.xgrid.minor_grid_line_color = "#d6d6d6"
    p.ygrid.minor_grid_line_color = "#d6d6d6"
    for xs, y1, y2, col in MELT[key]:
        p.line(xs, y1, line_color=col, line_width=1.0, line_alpha=0.9)
        p.line(xs, y2, line_color=col, line_width=1.0, line_alpha=0.9, line_dash="3 1")
    pos = MELT_PEAK_POS[key]
    free_text(p, [q[0] for q in pos], [q[1] for q in pos], MELT_PEAKS[key], "12px")
    if key == "E":
        for t, (tx, ty), sz, col in zip(E_tags, E_TAG_POS, E_TAG_SIZE, E_TAG_COL):
            free_text(p, [tx], [ty], [t], sz, color=col)
    dx, dy = MELT_LETTER[key]
    free_text(p, [60 + dx * 35.0 / fw], [(dy + LETTER_FIX) * 100.0 / fh], [key], "23px",
              color="#000000", align="left", baseline="alphabetic")
    return p


grid_rows = []
for r in range(4):
    cells = []
    for c in range(4):
        key = GRID[r][c]
        if c in (0, 2):
            cells.append(amp_panel(key, COL_W[c], ROW_H[r]))
        else:
            cells.append(melt_panel(key, COL_W[c], ROW_H[r]))
    grid_rows.append(row(*cells, spacing=3))
inner = column(*grid_rows, spacing=3)
GW = sum(COL_W) + 15
GH = sum(ROW_H) + 15
framed = column(Spacer(width=GW, height=3),
                row(Spacer(width=3, height=GH - 6), inner, Spacer(width=3, height=GH - 6)),
                Spacer(width=GW, height=3),
                styles={"background-color": FRAME_GREEN})
left = column(Spacer(width=GW, height=44), framed)

# ---------------- legend table ----------------
TW, TH = 353, 597
tf = figure(width=TW, height=TH, x_range=Range1d(888, 1245), y_range=Range1d(603, 3),
            output_backend="svg", toolbar_location=None, x_axis_type=None, y_axis_type=None,
            min_border=0)
tf.outline_line_color = None
tf.background_fill_color = "white"
tf.border_fill_color = "white"

ROW_TOPS = [40, 65, 153, 181, 207, 233, 306, 331, 357, 383, 408, 434, 460, 500, 526, 551, 577, 603]
SPLITS = {"E": [1052, 999], "F": [1045], "G": [1059], "H": [1051],
          "M": [1059], "N": [1052], "O": [1048], "P": [1041]}
STYLE = {"bi": "bold italic", "i": "italic", "b": "bold", "n": "normal"}
SIZE = {"bi": "12px", "i": "12.5px", "b": "11.5px", "n": "12px"}
PANEL_CX, DESC_CX = 915, 1094.5
LINE_H = 15

tf.quad(left=[888], right=[1245], top=[3], bottom=[37], fill_color=FRAME_GREEN, line_color=None)
tf.text(x=[1067], y=[20.5], text=["Legend"], text_font=value(FONT), text_font_size="22px",
        text_font_style="bold", text_color="white", text_align="center", text_baseline="middle")

for i in range(17):
    top, bot = ROW_TOPS[i], ROW_TOPS[i + 1] - 2
    fill = BAND_DARK if i % 2 == 0 else BAND_LIGHT
    tf.quad(left=[888, 944], right=[942, 1245], top=[top, top], bottom=[bot, bot],
            fill_color=fill, line_color=None)

tf.text(x=[PANEL_CX, DESC_CX], y=[52.5, 52.5], text=["Panel", "Description"], text_font=value(FONT),
        text_font_size="11.5px", text_font_style="bold", text_color="#111111",
        text_align="center", text_baseline="middle")

for i, (pl, lines) in enumerate(zip(TABLE_PANELS, TABLE_LINES)):
    top, bot = ROW_TOPS[i + 1], ROW_TOPS[i + 2] - 2
    mid = (top + bot) / 2
    n = len(lines)
    ys = [mid + (k - (n - 1) / 2) * LINE_H for k in range(n)]
    tf.text(x=[PANEL_CX], y=[ys[0]], text=[pl], text_font=value(FONT), text_font_size="11.5px",
            text_font_style="bold", text_color="#111111", text_align="center", text_baseline="middle")
    for k, segs in enumerate(lines):
        if len(segs) == 1:
            t, st = segs[0]
            tf.text(x=[DESC_CX], y=[ys[k]], text=[t], text_font=value(FONT), text_font_size=SIZE[st],
                    text_font_style=STYLE[st], text_color="#111111", text_align="center",
                    text_baseline="middle")
        else:
            sx = SPLITS[pl][k]
            (t0, s0), (t1, s1) = segs
            tf.text(x=[sx - 1], y=[ys[k]], text=[t0], text_font=value(FONT), text_font_size=SIZE[s0],
                    text_font_style=STYLE[s0], text_color="#111111", text_align="right",
                    text_baseline="middle")
            tf.text(x=[sx + 2], y=[ys[k]], text=[t1], text_font=value(FONT), text_font_size=SIZE[s1],
                    text_font_style=STYLE[s1], text_color="#111111", text_align="left",
                    text_baseline="middle")

right = column(Spacer(width=TW, height=2), tf)
page = row(Spacer(width=3, height=10), left, Spacer(width=8, height=10), right)
open("out.html", "w").write(file_html(page, INLINE, title="RT-LAMP amplification and melt curves"))
